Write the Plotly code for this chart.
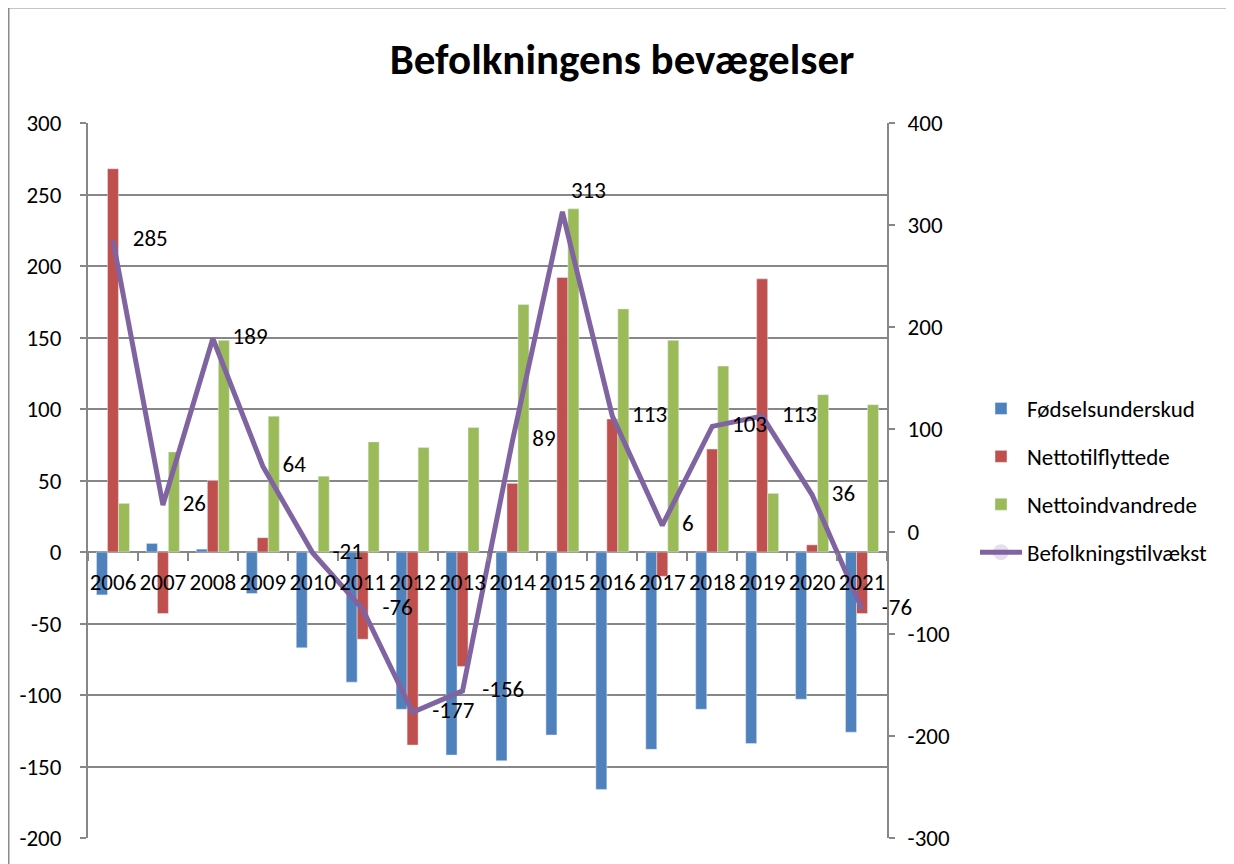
import plotly.graph_objects as go

years = [str(y) for y in range(2006, 2022)]
foedselsunderskud = [-30, 6, 2, -29, -67, -91, -110, -142, -146, -128, -166, -138, -110, -134, -103, -126]
nettotilflyttede = [268, -43, 50, 10, 0, -61, -135, -80, 48, 192, 93, -17, 72, 191, 5, -43]
nettoindvandrede = [34, 70, 148, 95, 53, 77, 73, 87, 173, 240, 170, 148, 130, 41, 110, 103]
befolkningstilvaekst = [285, 26, 189, 64, -21, -76, -177, -156, 89, 313, 113, 6, 103, 113, 36, -76]

left_ticks = [-200, -150, -100, -50, 0, 50, 100, 150, 200, 250, 300]
right_ticks = [-300, -200, -100, 0, 100, 200, 300, 400]

label_pos = ["middle right"] * 16
label_pos[9] = "top right"
marker_sizes = [30] * 16
marker_sizes[9] = 12

FONT = "Carlito, Calibri, Lato, sans-serif"
GRID = "#878787"
FS = 23

fig = go.Figure()
fig.add_trace(go.Bar(x=years, y=foedselsunderskud, name="Fødselsunderskud",
                     marker_color="#4F81BD", legendgroup="a"))
fig.add_trace(go.Bar(x=years, y=nettotilflyttede, name="Nettotilflyttede",
                     marker_color="#C0504D", legendgroup="b"))
fig.add_trace(go.Bar(x=years, y=nettoindvandrede, name="Nettoindvandrede",
                     marker_color="#9BBB59", legendgroup="c"))
fig.add_trace(go.Scatter(x=years, y=befolkningstilvaekst, name="Befolkningstilvækst",
                         yaxis="y2", mode="lines+markers+text",
                         line=dict(color="#8064A2", width=5),
                         marker=dict(size=marker_sizes, opacity=0, line=dict(width=0)),
                         text=[str(v) for v in befolkningstilvaekst],
                         textposition=label_pos,
                         textfont=dict(size=FS, color="black", family=FONT),
                         legendgroup="d", cliponaxis=False))

# the page body has an 8px margin; plot area in page pixels: x 88..887, y 123..838
OFF = 8
def px_x(p):
    return (p - 88) / 799

def px_y(p):
    return (838 - p) / 715

fig.update_layout(
    width=1234, height=864,
    margin=dict(l=88 - OFF, r=1234 - 887 + OFF, t=123 - OFF, b=864 - 838 + OFF),
    paper_bgcolor="white", plot_bgcolor="white",
    font=dict(family=FONT, size=FS, color="black"),
    title=dict(text="<b>Befolkningens bevægelser</b>", x=(622 - OFF) / 1234, xanchor="center",
               y=1 - (59 - OFF) / 864, yanchor="middle",
               font=dict(size=43, family=FONT, color="black")),
    barmode="group", bargap=0.34, bargroupgap=0,
    showlegend=True,
    legend=dict(x=px_x(975), xanchor="left", y=px_y(387), yanchor="top",
                traceorder="grouped", tracegroupgap=15, itemwidth=42,
                font=dict(size=FS, family=FONT, color="black"),
                bgcolor="rgba(0,0,0,0)"),
    xaxis=dict(type="category", anchor="free", position=0.4, range=[-0.5, 15.5],
               showline=False,
               ticks="outside", tickson="boundaries", ticklen=8, tickcolor=GRID, tickwidth=2,
               showgrid=False, tickfont=dict(size=FS), tickangle=0, ticklabelstandoff=14),
    yaxis=dict(range=[-200, 300], tickvals=left_ticks, ticktext=[str(v) for v in left_ticks],
               showgrid=True, gridcolor=GRID, gridwidth=2,
               zeroline=False, showline=True, linecolor=GRID, linewidth=2,
               ticks="outside", ticklen=6, tickcolor=GRID, tickwidth=2,
               tickfont=dict(size=FS), ticklabelstandoff=14),
    yaxis2=dict(range=[-300, 400], tickvals=right_ticks, ticktext=[str(v) for v in right_ticks],
                overlaying="y", side="right",
                showgrid=False, zeroline=False, showline=True, linecolor=GRID, linewidth=2,
                ticks="outside", ticklen=6, tickcolor=GRID, tickwidth=2,
                tickfont=dict(size=FS), ticklabelstandoff=8),
    shapes=[
        dict(type="line", xref="paper", yref="paper", x0=px_x(8), x1=px_x(1250),
             y0=px_y(7), y1=px_y(7), line=dict(color="#8A8A8A", width=3)),
        dict(type="line", xref="paper", yref="paper", x0=px_x(8), x1=px_x(8),
             y0=px_y(7), y1=px_y(880), line=dict(color="#8A8A8A", width=3)),
    ],
)

fig.write_html("out.html")
